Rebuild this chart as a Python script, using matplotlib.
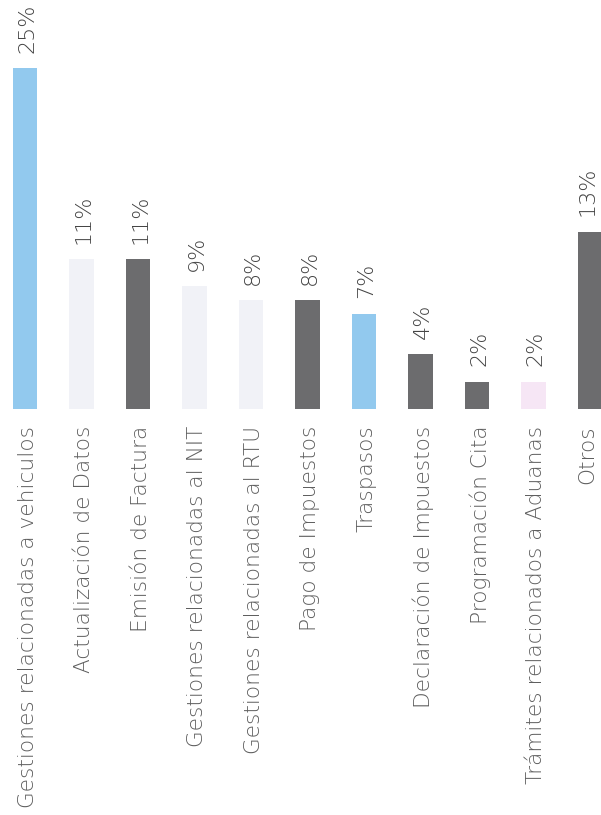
import matplotlib
matplotlib.use("Agg")
import matplotlib.pyplot as plt

categories = [
    "Gestiones relacionadas a vehiculos",
    "Actualización de Datos",
    "Emisión de Factura",
    "Gestiones relacionadas al NIT",
    "Gestiones relacionadas al RTU",
    "Pago de Impuestos",
    "Traspasos",
    "Declaración de Impuestos",
    "Programación Cita",
    "Trámites relacionados a Aduanas",
    "Otros",
]
values = [25, 11, 11, 9, 8, 8, 7, 4, 2, 2, 13]
value_labels = ["25%", "11%", "11%", "9%", "8%", "8%", "7%", "4%", "2%", "2%", "13%"]

BLUE = "#92c9ee"
DARK = "#6c6c6e"
PALE = "#f1f2f7"
PINK = "#f6e6f5"
colors = [BLUE, PALE, DARK, PALE, PALE, DARK, BLUE, DARK, DARK, PINK, DARK]

plt.rcParams["font.family"] = ["DejaVu Sans"]

fig = plt.figure(figsize=(6.01, 8.15), dpi=100)
ax = fig.add_axes([0, 406 / 815, 1, 409 / 815])

x = list(range(len(categories)))
ax.bar(x, values, width=0.44, color=colors, edgecolor="none")

ax.set_xlim(-25 / 56.5, (601 - 25) / 56.5)
ax.set_ylim(0, 30)
ax.axis("off")

last = len(categories) - 1
for xi, v, lab in zip(x, values, value_labels):
    dx = -1.5 if xi == last else 1.5
    ax.annotate(lab, (xi, v), xytext=(dx, 11), textcoords="offset points",
                rotation=90, ha="center", va="bottom",
                fontsize=16, fontweight="light", color="#444444",
                annotation_clip=False)

for xi, cat in zip(x, categories):
    dx = -1.8 if xi == last else 2.0
    ax.annotate(cat, (xi, 0), xytext=(dx, -12), textcoords="offset points",
                rotation=90, ha="center", va="top",
                fontsize=15.6, fontweight="light", color="#5e5e5e",
                annotation_clip=False)

fig.savefig("out.png", dpi=100, facecolor="white")
